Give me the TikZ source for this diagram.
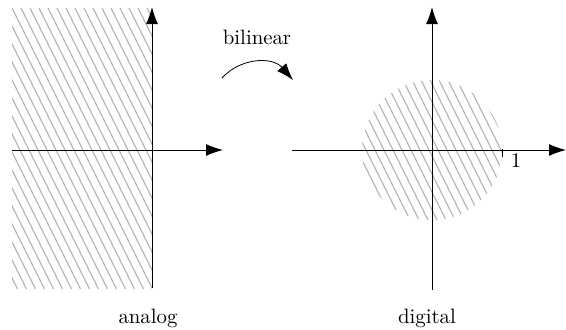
\documentclass[tikz,border=0pt]{standalone}
\usetikzlibrary{arrows.meta}
\begin{document}
\begin{tikzpicture}[x=0.5pt,y=-0.5pt,
  axis/.style={line width=0.5pt,-{Latex[length=8.5pt,width=6pt]}},
  hatch/.style={line width=0.65pt,draw=black!28},
  lbl/.style={font=\fontsize{10.4}{12.5}\selectfont,inner sep=0pt,anchor=base}]
\useasboundingbox (0,0) rectangle (566,329);
% analog hatching
\begin{scope}
  \clip (12,8) rectangle (152,288);
  \foreach \x in {-150,-141,...,160} \draw[hatch] (\x,8) -- ++(150,300);
\end{scope}
% digital hatching
\begin{scope}
  \clip (432,150) circle[radius=70];
  \foreach \x in {290,299,...,510} \draw[hatch] (\x,70) -- ++(80,160);
\end{scope}
% analog axes
\coordinate (axl) at (12,150);
\coordinate (axr) at (223,150);
\coordinate (ayb) at (152,288);
\coordinate (ayt) at (152,7);
\draw[axis] (axl) -- (axr);
\draw[axis] (ayb) -- (ayt);
% digital axes
\coordinate (dxl) at (292,150);
\coordinate (dxr) at (566,150);
\coordinate (dyb) at (432,290);
\coordinate (dyt) at (432,7);
\draw[axis] (dxl) -- (dxr);
\draw[axis] (dyb) -- (dyt);
% tick at 1
\coordinate (t1) at (502,149);
\coordinate (t2) at (502,157);
\draw[line width=0.5pt] (t1) -- (t2);
\node[lbl] (one) at (516,167) {1};
% bilinear arrow
\coordinate (ba) at (222,78);
\coordinate (bb) at (293,80);
\draw[line width=0.4pt,-{Latex[length=8.5pt,width=6pt]}] (ba) .. controls (240,58) and (272,56) .. (bb);
\node[lbl] (bil) at (257,44) {bilinear};
\node[lbl] (ana) at (148,323) {analog};
\node[lbl] (dig) at (427,323) {digital};
\end{tikzpicture}
\end{document}
